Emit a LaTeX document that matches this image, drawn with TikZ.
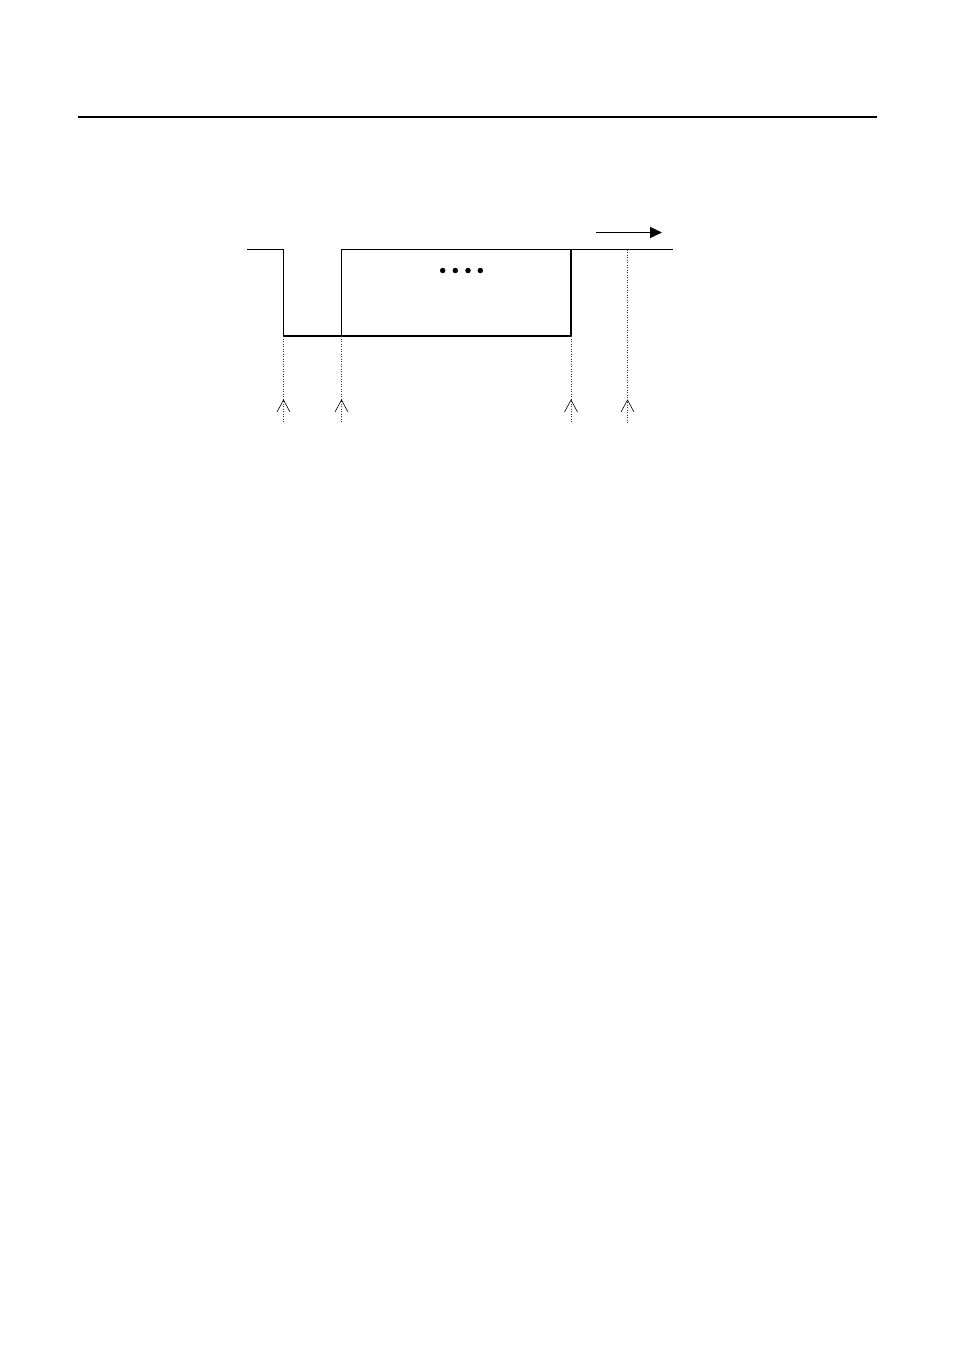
\documentclass[tikz,border=0pt]{standalone}
\usetikzlibrary{arrows.meta}
\begin{document}
\begin{tikzpicture}[x=1pt,y=-1pt,
  signal/.style={line width=1.1pt,line join=miter},
  guide/.style={line width=0.5pt,dotted,black!80},
  chevron/.style={line width=0.6pt},
  timearrow/.style={line width=1.4pt,-{Triangle[length=12pt,width=11pt]}},
  dotmark/.style={circle,fill=black,inner sep=0pt,minimum size=5.5pt}]
\useasboundingbox (0,0) rectangle (954,1351);
% header rule
\draw[line width=1.1pt] (78,117) -- (877,117);
% key points
\coordinate (s0) at (247,249.5);
\coordinate (d1) at (283.5,249.5);
\coordinate (l1) at (283.5,336);
\coordinate (l2) at (341.5,336);
\coordinate (u2) at (341.5,249.5);
\coordinate (r3) at (571,249.5);
\coordinate (b3) at (571,336);
\coordinate (e0) at (672.5,249.5);
\coordinate (g4) at (627.5,249.5);
% waveform
\draw[signal] (s0) -- (d1) -- (l1) -- (l2) -- (u2) -- (e0);
\draw[signal] (l2) -- (b3) -- (r3);
% dotted guides with open chevrons
\foreach \p/\n in {l1/a,l2/b,b3/c,g4/d}{
  \coordinate (\n end) at (\p |- 0,423);
  \draw[guide] (\p) -- (\n end);
  \coordinate (\n tip) at (\p |- 0,400);
  \draw[chevron] ([xshift=-6.5pt,yshift=-12pt]\n tip) -- (\n tip) -- ([xshift=6.5pt,yshift=-12pt]\n tip);
}
% time arrow
\coordinate (t0) at (596,232.5);
\coordinate (t1) at (662,232.5);
\draw[timearrow] (t0) -- (t1);
% dots
\foreach \x [count=\i] in {442.7,455.3,468,480.3}{
  \node[dotmark] (dot\i) at (\x,270.5) {};
}
\end{tikzpicture}
\end{document}
